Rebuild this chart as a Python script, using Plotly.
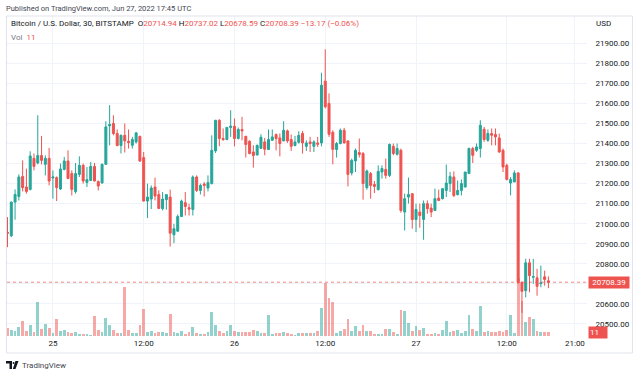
import plotly.graph_objects as go
import pandas as pd

# ---------------- data (BTC/USD, 30 min, Bitstamp) ----------------
start_time = "2022-06-24 18:00"
opens = [20957, 20940, 21108, 21136, 21236, 21183, 21171, 21326, 21303, 21340,
         21296, 21326, 21228, 21230, 21173, 21271, 21313, 21250, 21160, 21246,
         21291, 21206, 21216, 21286, 21210, 21203, 21296, 21488, 21500, 21450,
         21390, 21441, 21411, 21391, 21408, 21436, 21330, 21113, 21123, 21183,
         21146, 21075, 21120, 21133, 20945, 20963, 21036, 21105, 21080, 21071,
         21233, 21166, 21198, 21178, 21200, 21363, 21516, 21425, 21420, 21480,
         21486, 21425, 21470, 21436, 21411, 21358, 21343, 21376, 21408, 21370,
         21416, 21445, 21428, 21413, 21463, 21420, 21390, 21406, 21450, 21386,
         21408, 21386, 21403, 21403, 21711, 21600, 21456, 21370, 21400, 21466,
         21413, 21253, 21313, 21355, 21350, 21180, 21250, 21196, 21170, 21258,
         21271, 21241, 21386, 21346, 21366, 21058, 21133, 21150, 21021, 21058,
         21021, 21100, 21078, 21066, 21128, 21125, 21166, 21200, 21233, 21145,
         21166, 21183, 21250, 21375, 21366, 21375, 21471, 21416, 21450, 21445,
         21428, 21366, 21291, 21203, 21208, 21253, 20708, 20666, 20805, 20733,
         20730, 20701, 20735, 20714.94]
highs = [21033, 21110, 21171, 21246, 21316, 21275, 21361, 21350, 21541, 21438,
         21341, 21378, 21266, 21236, 21300, 21333, 21366, 21266, 21303, 21336,
         21300, 21283, 21308, 21303, 21216, 21300, 21511, 21591, 21541, 21470,
         21445, 21500, 21470, 21433, 21458, 21438, 21358, 21200, 21191, 21230,
         21166, 21158, 21147, 21170, 20999, 21046, 21120, 21158, 21100, 21241,
         21241, 21200, 21208, 21241, 21441, 21518, 21521, 21475, 21483, 21566,
         21525, 21480, 21533, 21438, 21416, 21391, 21396, 21446, 21428, 21470,
         21470, 21450, 21450, 21511, 21470, 21445, 21438, 21461, 21463, 21416,
         21433, 21416, 21433, 21753, 21870, 21650, 21466, 21408, 21475, 21478,
         21416, 21325, 21375, 21425, 21358, 21270, 21258, 21213, 21291, 21291,
         21325, 21400, 21400, 21400, 21375, 21150, 21230, 21150, 21100, 21100,
         21116, 21116, 21100, 21175, 21170, 21175, 21295, 21258, 21261, 21216,
         21221, 21258, 21380, 21383, 21400, 21516, 21483, 21470, 21475, 21475,
         21450, 21375, 21300, 21233, 21266, 21258, 20712, 20825, 20825, 20825,
         20775, 20791, 20766, 20737.02]
lows = [20883, 20933, 21020, 21116, 21161, 21150, 21166, 21266, 21296, 21296,
        21241, 21191, 21125, 21113, 21168, 21266, 21222, 21141, 21150, 21233,
        21200, 21183, 21214, 21211, 21166, 21201, 21294, 21391, 21441, 21386,
        21350, 21355, 21375, 21375, 21400, 21308, 21111, 21028, 21073, 21116,
        21073, 21066, 21070, 20886, 20903, 20958, 21033, 21041, 21041, 21041,
        21158, 21146, 21136, 21161, 21196, 21353, 21386, 21413, 21416, 21433,
        21386, 21420, 21416, 21330, 21346, 21280, 21340, 21373, 21341, 21368,
        21414, 21366, 21336, 21411, 21403, 21363, 21386, 21400, 21350, 21363,
        21358, 21358, 21383, 21386, 21575, 21433, 21296, 21330, 21396, 21400,
        21186, 21241, 21258, 21330, 21120, 21170, 21125, 21153, 21166, 21225,
        21225, 21233, 21341, 21340, 21055, 20966, 21100, 20975, 20958, 20980,
        20920, 21050, 21033, 21063, 21113, 21121, 21133, 21158, 21133, 21141,
        21141, 21181, 21248, 21303, 21358, 21330, 21408, 21408, 21391, 21391,
        21353, 21258, 21216, 21141, 21208, 20700, 20555, 20633, 20658, 20700,
        20641, 20683, 20691, 20678.59]
closes = [20953, 21108, 21146, 21233, 21180, 21161, 21338, 21286, 21340, 21316,
          21326, 21213, 21233, 21180, 21273, 21313, 21226, 21171, 21250, 21291,
          21213, 21220, 21286, 21213, 21188, 21296, 21483, 21495, 21450, 21390,
          21441, 21413, 21405, 21420, 21453, 21313, 21113, 21133, 21178, 21138,
          21076, 21123, 21145, 20953, 20975, 21036, 21113, 21086, 21073, 21233,
          21166, 21191, 21191, 21205, 21366, 21516, 21425, 21420, 21480, 21487,
          21425, 21470, 21463, 21395, 21350, 21340, 21390, 21431, 21371, 21420,
          21433, 21425, 21400, 21466, 21413, 21386, 21408, 21441, 21403, 21403,
          21400, 21408, 21396, 21691, 21583, 21446, 21371, 21400, 21466, 21403,
          21246, 21316, 21366, 21345, 21200, 21263, 21191, 21186, 21261, 21275,
          21241, 21395, 21350, 21375, 21066, 21125, 21146, 21021, 21071, 21041,
          21100, 21075, 21058, 21125, 21116, 21175, 21203, 21236, 21141, 21166,
          21200, 21258, 21375, 21341, 21383, 21491, 21420, 21450, 21441, 21433,
          21358, 21283, 21221, 21221, 21253, 20708, 20663, 20805, 20741, 20736,
          20688, 20705, 20721.56, 20708.39]
volumes = [23, 16, 15, 26, 42, 15, 30, 10, 93, 19, 32, 21, 9, 46, 15, 16, 12, 9,
           12, 6, 6, 6, 3, 56, 16, 12, 50, 30, 16, 7, 7, 134, 16, 7, 9, 30, 74,
           12, 14, 9, 12, 10, 7, 60, 10, 7, 14, 6, 10, 26, 7, 6, 6, 10, 67, 30,
           14, 7, 14, 30, 14, 10, 12, 12, 10, 16, 14, 7, 7, 58, 6, 9, 9, 11, 7,
           6, 3, 7, 7, 7, 7, 9, 15, 76, 145, 104, 93, 9, 14, 18, 48, 14, 27, 13,
           29, 14, 14, 5, 5, 5, 19, 20, 11, 5, 71, 68, 36, 14, 27, 16, 22, 6, 6,
           8, 6, 16, 41, 11, 14, 16, 8, 13, 57, 18, 13, 82, 11, 14, 11, 11, 14,
           11, 16, 57, 9, 160, 96, 38, 51, 47, 14, 10, 10, 11]
price_ticks = [20500, 20600, 20700, 20800, 20900, 21000, 21100, 21200,
               21300, 21400, 21500, 21600, 21700, 21800, 21900]
time_tick_vals = ["2022-06-25 00:00", "2022-06-25 12:00", "2022-06-26 00:00",
                  "2022-06-26 12:00", "2022-06-27 00:00", "2022-06-27 12:00",
                  "2022-06-27 21:00"]
time_tick_text = ["25", "12:00", "26", "12:00", "27", "12:00", "21:00"]

# ---------------- styling ----------------
UP = "#26a69a"
DOWN = "#ef5350"
UP_VOL = "rgba(38,166,154,0.5)"
DOWN_VOL = "rgba(239,83,80,0.5)"
GRID = "#f0f3fa"
TXT = "#131722"
FONT = "Roboto"

times = pd.date_range(start_time, periods=len(opens), freq="30min")
step = pd.Timedelta(minutes=30)
vol_colors = [UP_VOL if c >= o else DOWN_VOL for o, c in zip(opens, closes)]
last_c = closes[-1]
chg = closes[-1] - closes[-2]
pct = chg / closes[-2] * 100

# pixel frame of the pane
PL, PR, PT, PB = 7.0, 587.5, 16.0, 337.0


def px_x(px):
    return (px - PL) / (PR - PL)


def px_y(py):
    return (PB - py) / (PB - PT)


# tick labels hidden where the last-price label sits (as TradingView does)
price_tick_text = ["" if abs(v - last_c) < 40 else f"{v:.2f}" for v in price_ticks]

fig = go.Figure()
fig.add_trace(go.Bar(x=times, y=volumes, marker=dict(color=vol_colors, line=dict(width=0)),
                     width=step.total_seconds() * 1000 * 0.74, yaxis="y", hoverinfo="skip"))
fig.add_trace(go.Candlestick(
    x=times, open=opens, high=highs, low=lows, close=closes, yaxis="y2",
    increasing=dict(line=dict(color=UP, width=1), fillcolor=UP),
    decreasing=dict(line=dict(color=DOWN, width=1), fillcolor=DOWN),
    whiskerwidth=0))

x_start = times[0] - pd.Timedelta(minutes=4)
x_end = times[0] + step * 153.2

fig.update_layout(
    width=640, height=376,
    margin=dict(l=PL, r=640 - PR, t=PT, b=376 - PB, pad=0),
    paper_bgcolor="white", plot_bgcolor="white",
    showlegend=False, boxgap=0.25, bargap=0,
    font=dict(family=FONT, size=8, color=TXT),
    xaxis=dict(type="date", range=[x_start, x_end], tickvals=time_tick_vals,
               ticktext=time_tick_text, showgrid=True, gridcolor=GRID, gridwidth=1,
               zeroline=False, showline=False, ticks="", rangeslider=dict(visible=False),
               tickfont=dict(size=8, color=TXT, family=FONT)),
    yaxis=dict(range=[-2.75, 880], visible=False, showgrid=False, zeroline=False),
    yaxis2=dict(overlaying="y", side="right", range=[20435, 22036],
                tickvals=price_ticks, ticktext=price_tick_text,
                showgrid=True, gridcolor=GRID, gridwidth=1, zeroline=False,
                showline=False, ticks="outside", ticklen=6, tickcolor="rgba(0,0,0,0)",
                tickfont=dict(size=8, color=TXT, family=FONT)),
)

# current price line
fig.add_shape(type="line", xref="paper", x0=0, x1=1, yref="y2", y0=last_c, y1=last_c,
              line=dict(color="rgba(239,83,80,0.7)", width=1, dash="dot"))

# frame
fig.add_shape(type="rect", xref="paper", yref="paper", x0=px_x(6.5), x1=px_x(633),
              y0=px_y(353), y1=px_y(16), line=dict(color="#e0e3eb", width=1),
              fillcolor="rgba(0,0,0,0)", layer="above")

# price label
fig.add_annotation(xref="paper", yref="y2", x=px_x(589), y=last_c, xanchor="left",
                   yanchor="middle", text=f"{last_c:.2f}", showarrow=False,
                   bgcolor=DOWN, font=dict(color="white", size=8, family=FONT),
                   width=38, align="center", borderpad=1)
# volume label
fig.add_annotation(xref="paper", yref="y", x=px_x(589), y=volumes[-1], xanchor="left",
                   yanchor="middle", text=f"{volumes[-1]}", showarrow=False,
                   bgcolor=DOWN, font=dict(color="white", size=8, family=FONT),
                   width=16, align="left", borderpad=1)

red = f"<span style='color:{DOWN}'>"
legend = ("Bitcoin / U.S. Dollar, 30, BITSTAMP  "
          f"O{red}{opens[-1]:.2f}</span> H{red}{highs[-1]:.2f}</span> "
          f"L{red}{lows[-1]:.2f}</span> C{red}{closes[-1]:.2f}</span> "
          f"{red}{chg:+.2f} ({pct:+.2f}%)</span>").replace("-", "\u2212")
fig.add_annotation(xref="paper", yref="paper", x=px_x(9), y=px_y(23), xanchor="left",
                   yanchor="middle", text=legend, showarrow=False,
                   font=dict(size=8, color=TXT, family=FONT))
fig.add_annotation(xref="paper", yref="paper", x=px_x(9), y=px_y(37), xanchor="left",
                   yanchor="middle", text=f"<span style='color:#787b86'>Vol</span>  {red}{volumes[-1]}</span>",
                   showarrow=False, font=dict(size=8, color=TXT, family=FONT))
fig.add_annotation(xref="paper", yref="paper", x=px_x(595), y=px_y(23), xanchor="left",
                   yanchor="middle", text="USD", showarrow=False,
                   font=dict(size=8, color=TXT, family=FONT))
fig.add_annotation(xref="paper", yref="paper", x=px_x(4), y=px_y(8), xanchor="left",
                   yanchor="middle", text="Published on TradingView.com, Jun 27, 2022 17:45 UTC",
                   showarrow=False, font=dict(size=7.5, color="#434651", family=FONT))
fig.add_annotation(xref="paper", yref="paper", x=px_x(20), y=px_y(365), xanchor="left",
                   yanchor="middle", text="TradingView", showarrow=False,
                   font=dict(size=8, color="#434651", family=FONT))

# logo
def pth(points):
    s = "M " + " L ".join(f"{px_x(a):.5f} {px_y(b):.5f}" for a, b in points) + " Z"
    return s

fig.add_shape(type="path", xref="paper", yref="paper",
              path=pth([(6, 361), (12, 361), (12, 369), (9.5, 369), (9.5, 363.5), (6, 363.5)]),
              fillcolor="#131722", line=dict(width=0))
fig.add_shape(type="circle", xref="paper", yref="paper", x0=px_x(12.6), x1=px_x(14.6),
              y0=px_y(364), y1=px_y(362), fillcolor="#131722", line=dict(width=0))
fig.add_shape(type="path", xref="paper", yref="paper",
              path=pth([(15.5, 361), (18.5, 361), (15.5, 369), (12.8, 369)]),
              fillcolor="#131722", line=dict(width=0))

fig.write_html("out.html", config={"displayModeBar": False},
               post_script="document.body.style.margin='0';document.body.style.overflow='hidden';")
